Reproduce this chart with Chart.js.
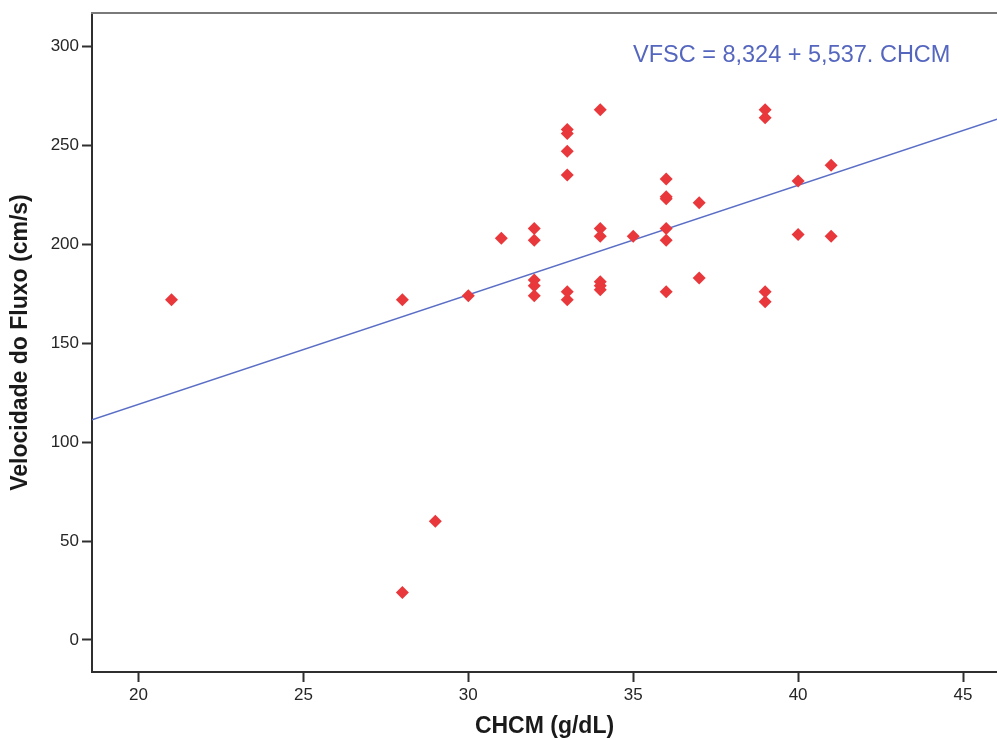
<!DOCTYPE html>
<html>
<head>
<meta charset="utf-8">
<script src="https://cdn.jsdelivr.net/npm/chart.js@4"></script>
<style>
  html, body { margin: 0; padding: 0; background: #fff; }
  #wrap { width: 997px; height: 740px; }
</style>
</head>
<body>
<div id="wrap"><canvas id="grafico" width="997" height="740"></canvas></div>
<script>
  // Dados: CHCM (g/dL) x Velocidade do Fluxo (cm/s)
  const chcm = [21, 28, 28, 29, 30, 31,
    32, 32, 32, 32, 32,
    33, 33, 33, 33, 33, 33,
    34, 34, 34, 34, 34, 34,
    35,
    36, 36, 36, 36, 36, 36,
    37, 37,
    39, 39, 39, 39,
    40, 40,
    41, 41];
  const vfsc = [172, 172, 24, 60, 174, 203,
    208, 202, 182, 179, 174,
    258, 256, 247, 235, 176, 172,
    268, 208, 204, 181, 179, 177,
    204,
    233, 224, 223, 208, 202, 176,
    221, 183,
    268, 264, 176, 171,
    232, 205,
    240, 204];

  // Reta de regressão: VFSC = 8,324 + 5,537 . CHCM
  const intercepto = 8.324;
  const inclinacao = 5.537;
  const equacao = 'VFSC = 8,324 + 5,537. CHCM';

  const xMin = 18.59, xMax = 46.03;
  const yMin = -16.2, yMax = 316.9;
  const xTicks = [20, 25, 30, 35, 40, 45];
  const yTicks = [0, 50, 100, 150, 200, 250, 300];

  const pontos = chcm.map((x, i) => ({ x: x, y: vfsc[i] }));
  const reta = [xMin, xMax].map(x => ({ x: x, y: intercepto + inclinacao * x }));

  const corEixo = '#2f2f2f';
  const corTexto = '#262626';
  const fonte = '"Liberation Sans", Arial, sans-serif';

  // Linha cinza no topo e texto da equação
  const extras = {
    id: 'extras',
    afterDraw(chart) {
      const c = chart.ctx;
      const a = chart.chartArea;
      c.save();
      c.strokeStyle = '#7a7a7a';
      c.lineWidth = 2;
      c.beginPath();
      c.moveTo(a.left - 1, a.top);
      c.lineTo(a.right, a.top);
      c.stroke();
      c.fillStyle = '#5566bf';
      c.font = '23.5px ' + fonte;
      c.textAlign = 'left';
      c.textBaseline = 'alphabetic';
      c.fillText(equacao, 633, 62);
      c.restore();
    }
  };

  new Chart(document.getElementById('grafico'), {
    type: 'scatter',
    data: {
      datasets: [
        {
          label: 'Pontos',
          data: pontos,
          pointStyle: 'rectRot',
          pointRadius: 6.5,
          backgroundColor: '#e9383c',
          borderColor: '#e9383c',
          borderWidth: 0,
          order: 1
        },
        {
          label: 'Regressão',
          data: reta,
          showLine: true,
          pointRadius: 0,
          borderColor: '#5a6ec6',
          borderWidth: 1.4,
          order: 2
        }
      ]
    },
    options: {
      responsive: false,
      animation: false,
      devicePixelRatio: 1,
      layout: { autoPadding: false, padding: { top: 13, right: 0, left: 0, bottom: 0 } },
      plugins: { legend: { display: false }, tooltip: { enabled: false } },
      scales: {
        x: {
          type: 'linear',
          min: xMin,
          max: xMax,
          afterBuildTicks: s => { s.ticks = xTicks.map(v => ({ value: v })); },
          afterFit: s => { s.height = 68; s.paddingLeft = 0; s.paddingRight = 0; },
          grid: { drawOnChartArea: false, drawTicks: true, tickLength: 10, tickWidth: 2, tickColor: corEixo },
          border: { display: true, color: corEixo, width: 2 },
          ticks: {
            padding: 3,
            color: corTexto,
            maxRotation: 0,
            font: { family: fonte, size: 17 }
          },
          title: {
            display: true,
            text: 'CHCM (g/dL)',
            color: '#1a1a1a',
            padding: { top: 0, bottom: 0 },
            font: { family: fonte, size: 23, weight: 'bold', lineHeight: 1.15 }
          }
        },
        y: {
          type: 'linear',
          min: yMin,
          max: yMax,
          afterBuildTicks: s => { s.ticks = yTicks.map(v => ({ value: v })); },
          afterFit: s => { s.width = 92; s.paddingTop = 0; s.paddingBottom = 0; },
          grid: { drawOnChartArea: false, drawTicks: true, tickLength: 10, tickWidth: 2, tickColor: corEixo },
          border: { display: true, color: corEixo, width: 2 },
          ticks: {
            padding: 3,
            color: corTexto,
            font: { family: fonte, size: 17 }
          },
          title: {
            display: true,
            text: 'Velocidade do Fluxo (cm/s)',
            color: '#1a1a1a',
            padding: { top: 7, bottom: 0 },
            font: { family: fonte, size: 23, weight: 'bold', lineHeight: 1.15 }
          }
        }
      }
    },
    plugins: [extras]
  });
</script>
</body>
</html>
